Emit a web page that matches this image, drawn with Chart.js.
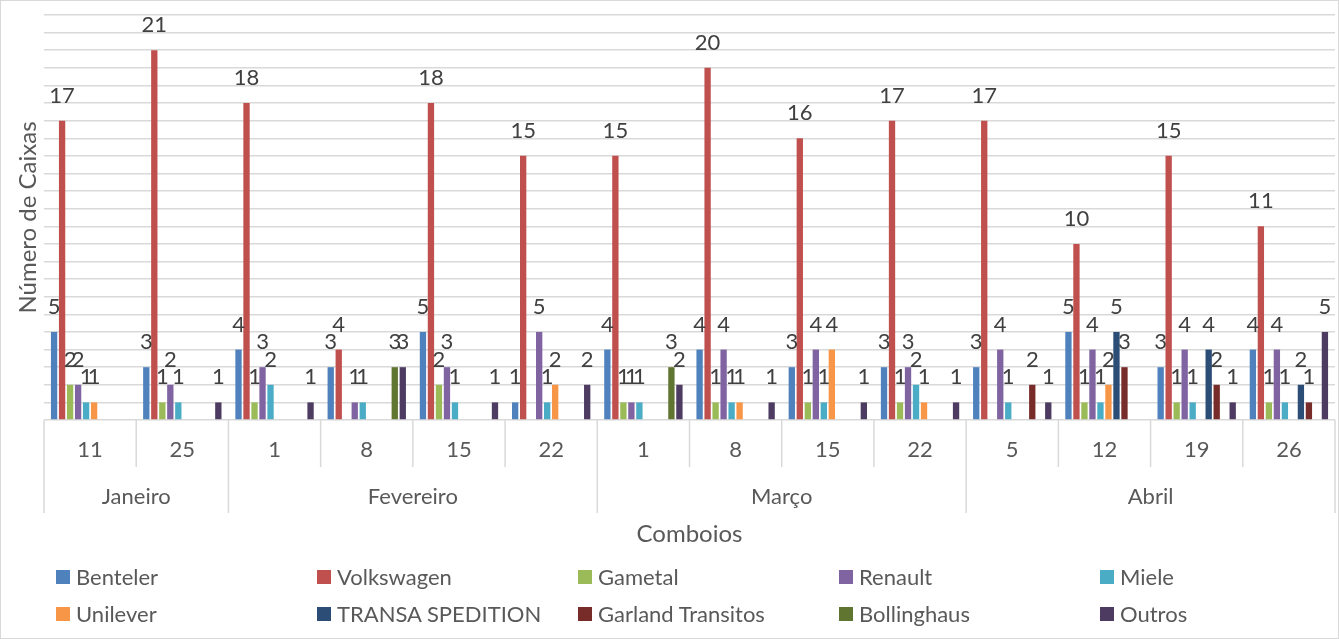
<!DOCTYPE html>
<html lang="pt">
<head>
<meta charset="utf-8">
<title>Número de Caixas por Comboio</title>
<script src="https://cdn.jsdelivr.net/npm/chart.js@4.4.1/dist/chart.umd.min.js"></script>
<style>
  html, body { margin: 0; padding: 0; background: #fff; }
  #wrap { position: relative; width: 1339px; height: 639px; font-family: Lato, "Open Sans", sans-serif; }
  #grafico { display: block; }
  #legenda { position: absolute; left: 0; top: 0; width: 1339px; height: 639px; pointer-events: none; }
  .item { position: absolute; display: flex; align-items: center; color: #595959; font-size: 22px; line-height: 24px; white-space: nowrap; }
  .item .caixa { width: 14px; height: 14px; margin-right: 6px; flex: none; }
</style>
</head>
<body>
<div id="wrap">
  <canvas id="grafico" width="1339" height="639"></canvas>
  <div id="legenda"></div>
</div>
<script>
// categorias: dia do comboio, agrupado por mês
const dias = ['11', '25', '1', '8', '15', '22', '1', '8', '15', '22', '5', '12', '19', '26'];
const meses = ['Janeiro', 'Fevereiro', 'Março', 'Abril'];
const diasPorMes = [2, 4, 4, 4];

// número de caixas por cliente
const benteler    = [5, 3, 4, 3, 5, 1, 4, 4, 3, 3, 3, 5, 3, 4];
const volkswagen  = [17, 21, 18, 4, 18, 15, 15, 20, 16, 17, 17, 10, 15, 11];
const gametal     = [2, 1, 1, 0, 2, 0, 1, 1, 1, 1, 0, 1, 1, 1];
const renault     = [2, 2, 3, 1, 3, 5, 1, 4, 4, 3, 4, 4, 4, 4];
const miele       = [1, 1, 2, 1, 1, 1, 1, 1, 1, 2, 1, 1, 1, 1];
const unilever    = [1, 0, 0, 0, 0, 2, 0, 1, 4, 1, 0, 2, 0, 0];
const transa      = [0, 0, 0, 0, 0, 0, 0, 0, 0, 0, 0, 5, 4, 2];
const garland     = [0, 0, 0, 0, 0, 0, 0, 0, 0, 0, 2, 3, 2, 1];
const bollinghaus = [0, 0, 0, 3, 0, 0, 3, 0, 0, 0, 0, 0, 0, 0];
const outros      = [0, 1, 1, 3, 1, 2, 2, 1, 1, 1, 1, 0, 1, 5];

const nomes = ['Benteler', 'Volkswagen', 'Gametal', 'Renault', 'Miele', 'Unilever',
  'TRANSA SPEDITION', 'Garland Transitos', 'Bollinghaus', 'Outros'];
const valores = [benteler, volkswagen, gametal, renault, miele, unilever, transa, garland, bollinghaus, outros];
const cores = ['#4F81BD', '#C0504D', '#9BBB59', '#8064A2', '#4BACC6', '#F79646',
  '#2C4D75', '#772C2A', '#5F7530', '#4D3B62'];

const corTexto = '#595959';
const corGrelha = '#D9D9D9';
const fonte = 'Lato, "Open Sans", sans-serif';

// fundo branco e moldura do gráfico
const moldura = {
  id: 'moldura',
  beforeDraw(chart) {
    const ctx = chart.ctx;
    ctx.save();
    ctx.fillStyle = '#fff';
    ctx.fillRect(0, 0, chart.width, chart.height);
    ctx.strokeStyle = corGrelha;
    ctx.lineWidth = 1;
    ctx.strokeRect(0.5, 0.5, chart.width - 1, chart.height - 1);
    ctx.restore();
  }
};

// eixo de categorias em dois níveis (dia / mês)
const eixoDuplo = {
  id: 'eixoDuplo',
  afterDraw(chart) {
    const ctx = chart.ctx;
    const area = chart.chartArea;
    const x = chart.scales.x;
    const largura = (area.right - area.left) / dias.length;
    const base = area.bottom;

    const limitesMes = [0];
    diasPorMes.forEach(n => limitesMes.push(limitesMes[limitesMes.length - 1] + n));

    ctx.save();
    ctx.strokeStyle = corGrelha;
    ctx.lineWidth = 1.5;
    for (let i = 0; i <= dias.length; i++) {
      const px = area.left + i * largura;
      const longa = limitesMes.includes(i);
      ctx.beginPath();
      ctx.moveTo(px, base);
      ctx.lineTo(px, base + (longa ? 93 : 47));
      ctx.stroke();
    }

    ctx.fillStyle = corTexto;
    ctx.font = '22px ' + fonte;
    ctx.textAlign = 'center';
    ctx.textBaseline = 'middle';
    dias.forEach((d, i) => ctx.fillText(d, x.getPixelForValue(i), base + 30));

    meses.forEach((m, k) => {
      const cx = (x.getPixelForValue(limitesMes[k]) + x.getPixelForValue(limitesMes[k + 1] - 1)) / 2;
      ctx.fillText(m, cx, base + 77);
    });
    ctx.restore();
  }
};

// rótulos de dados por cima das barras (só valores > 0)
const rotulos = {
  id: 'rotulos',
  afterDatasetsDraw(chart) {
    const ctx = chart.ctx;
    ctx.save();
    ctx.fillStyle = '#404040';
    ctx.font = '22px ' + fonte;
    ctx.textAlign = 'center';
    ctx.textBaseline = 'alphabetic';
    chart.data.datasets.forEach((ds, i) => {
      const meta = chart.getDatasetMeta(i);
      meta.data.forEach((barra, j) => {
        const v = ds.data[j];
        if (v > 0) ctx.fillText(String(v), barra.x, barra.y - 18);
      });
    });
    ctx.restore();
  }
};

// legenda em HTML, 5 colunas
const legendaHtml = {
  id: 'legendaHtml',
  afterUpdate(chart) {
    const caixa = document.getElementById('legenda');
    caixa.innerHTML = '';
    chart.data.datasets.forEach((ds, i) => {
      const item = document.createElement('div');
      item.className = 'item';
      item.style.left = (56 + (i % 5) * 261) + 'px';
      item.style.top = (i < 5 ? 565 : 602) + 'px';
      const quadrado = document.createElement('span');
      quadrado.className = 'caixa';
      quadrado.style.background = ds.backgroundColor;
      const texto = document.createElement('span');
      texto.textContent = ds.label;
      item.appendChild(quadrado);
      item.appendChild(texto);
      caixa.appendChild(item);
    });
  }
};

new Chart(document.getElementById('grafico'), {
  type: 'bar',
  data: {
    labels: dias,
    datasets: nomes.map((nome, i) => ({
      label: nome,
      data: valores[i],
      backgroundColor: cores[i],
      borderWidth: 0,
      categoryPercentage: 0.868,
      barPercentage: 0.79
    }))
  },
  options: {
    responsive: false,
    animation: false,
    layout: { padding: { left: 10, right: 4, top: 15, bottom: 90 } },
    plugins: {
      legend: { display: false },
      tooltip: { enabled: false }
    },
    scales: {
      x: {
        ticks: { display: false },
        grid: { display: false, drawTicks: false },
        border: { display: false },
        title: {
          display: true,
          text: 'Comboios',
          color: corTexto,
          font: { family: fonte, size: 24 },
          padding: { top: 0, bottom: 0 }
        },
        afterFit(scale) { scale.height = 129; }
      },
      y: {
        min: 0,
        max: 23,
        ticks: { display: false, stepSize: 1 },
        grid: { color: corGrelha, lineWidth: 1.5, drawTicks: false },
        border: { display: false },
        title: {
          display: true,
          text: 'Número de Caixas',
          color: corTexto,
          font: { family: fonte, size: 24 },
          padding: { top: 4, bottom: 4 }
        },
        afterFit(scale) { scale.width = 34; }
      }
    }
  },
  plugins: [moldura, eixoDuplo, rotulos, legendaHtml]
});
</script>
</body>
</html>
